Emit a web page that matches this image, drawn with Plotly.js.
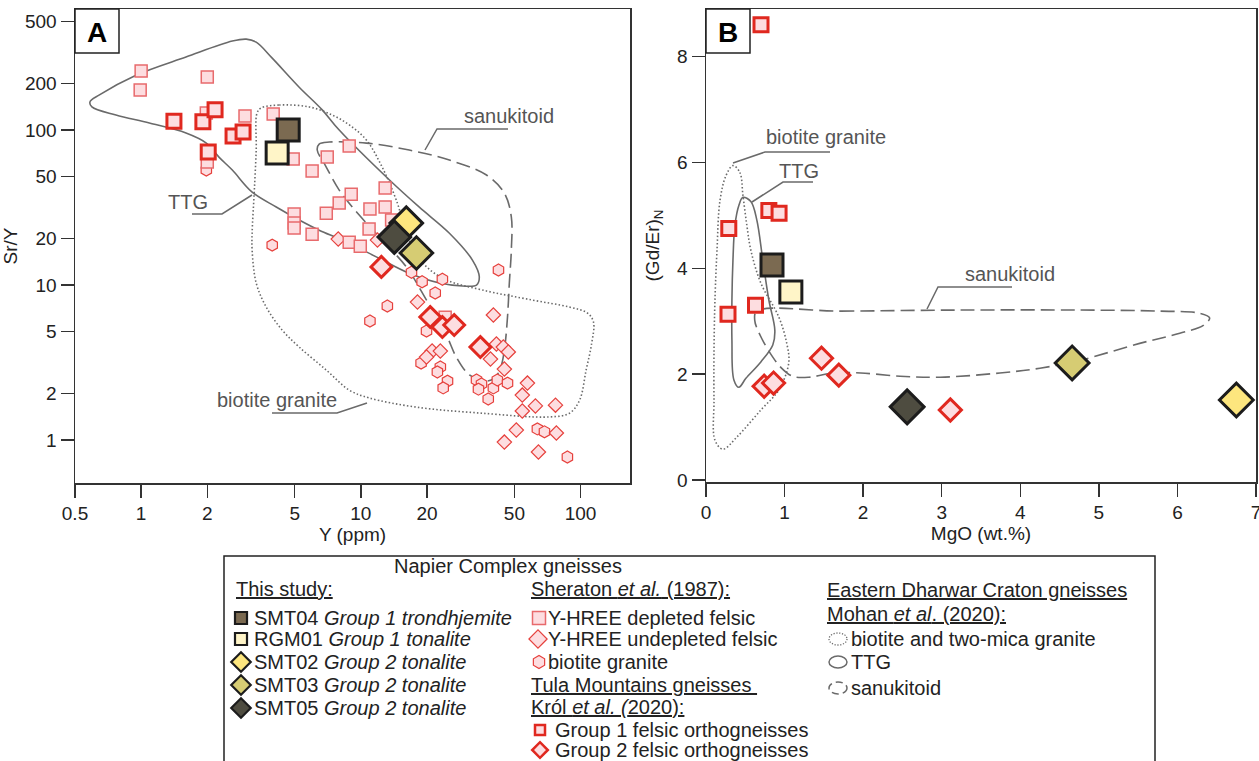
<!DOCTYPE html>
<html><head><meta charset="utf-8">
<script src="https://cdn.plot.ly/plotly-3.0.1.min.js"></script>
<style>html,body{margin:0;padding:0;background:#fff}#chart{width:1259px;height:761px}</style>
</head><body><div id="chart"></div>
<script>
// ---------------- DATA (panel A: Y ppm vs Sr/Y) ----------------
const shDepY   = [1.0,0.99,2.0,1.98,2.97,3.99,4.92,6.0,7.03,8.85,12.9,9.04,7.97,6.96,4.97,4.97,4.97,6.0,11.0,12.9,10.9,8.85,9.94,13.8,2.0,24.2];
const shDepSrY = [240,181,220,129,123,127,65,54.4,67,78.9,42.3,38.6,33.8,29.1,28.7,25.1,23.3,21.3,30.9,31.9,23.0,18.9,17.8,26.3,62.2,6.2];
const shUndY   = [7.89,11.9,18.1,40.1,21.1,23.0,19.9,41.4,44.5,46.9,38.9,45.0,57.3,54.3,62.3,76.9,54.3,51.0,77.6,45.0,64.3];
const shUndSrY = [19.8,19.5,7.77,6.41,3.75,3.75,3.43,4.16,3.98,3.70,3.33,2.87,2.33,1.95,1.66,1.68,1.54,1.16,1.11,0.97,0.837];
const shBtY    = [1.98,3.95,17.0,19.0,23.5,42.3,21.8,13.2,11.0,19.9,18.8,23.0,22.3,24.8,23.7,33.6,35.4,34.3,40.1,41.8,46.5,38.0,63.6,68.5,87.1];
const shBtSrY  = [55.2,18.1,12.1,10.5,10.9,12.5,8.88,7.32,5.86,5.05,3.14,2.96,2.75,2.40,2.17,2.44,2.30,2.13,2.17,2.44,2.33,1.84,1.18,1.13,0.777];
const krolG1Y   = [1.41,1.91,2.17,2.62,2.91,2.02];
const krolG1SrY = [114,113,135,91.5,97,72.1];
const krolG2Y   = [12.4,20.7,23.5,26.6,35.0];
const krolG2SrY = [13.1,6.22,5.36,5.52,3.98];
const studyNames = ['SMT04','RGM01','SMT02','SMT03','SMT05'];
const studyY     = [4.67,4.16,16.1,17.9,14.2];
const studySrY   = [100,71.1,25.1,16.1,20.4];
// field outlines, panel A
const ttgAY   = [0.585,0.643,0.948,1.60,2.60,3.01,3.34,3.95,5.24,6.67,7.97,13.5,18.4,25.3,32.2,34.6,33.6,29.0,22.8,16.6,11.75,8.23,6.46,5.24,4.12,3.20,2.60,2.26,1.98,1.60,1.09,0.768,0.597];
const ttgASrY = [152,168,226,296,375,386,369,291,189,135,100,47.6,31.9,21.6,14.5,11.3,10.0,9.86,10.3,11.9,15.2,19.5,22.6,26.3,31.9,39.8,55.2,66.9,82.4,95.7,111,125,141];
const btAY    = [3.52,4.25,5.82,7.41,8.86,10.6,12.5,14.5,16.6,19.5,24.5,35.7,60.4,89.0,107.5,114.5,112,106,99,89,72.2,35.7,17.9,10.9,8.86,6.96,5.24,4.38,3.71,3.34,3.20,3.20,3.27,3.34,3.37];
const btASrY  = [139,145,141,125,108,86.2,57.7,35.3,19.5,13.5,10.8,9.29,8.0,7.21,6.6,5.77,4.10,2.83,1.81,1.49,1.41,1.49,1.63,1.87,2.10,2.83,3.98,5.13,7.21,10.3,16.8,21.6,39.2,74.3,129];
const snAY    = [6.33,6.46,7.18,10.6,16.6,25.3,37.3,45.0,48.4,48.4,47.4,46.5,45.0,43.2,40.5,36.5,31.2,27.2,24.5,19.9,16.1,12.5,9.83,7.97,6.88];
const snASrY  = [74.3,81.2,83.7,82.4,74.3,64.0,51.3,39.2,27.5,16.8,10.3,6.22,3.81,2.91,2.51,2.40,2.63,3.43,4.76,8.0,13.1,19.5,28.3,41.0,59.5];

// ---------------- DATA (panel B: MgO wt.% vs (Gd/Er)N) ----------------
const krolG1MgO = [0.70,0.29,0.80,0.93,0.28,0.63];
const krolG1Gd  = [8.60,4.75,5.09,5.04,3.13,3.30];
const krolG2MgO = [0.74,0.86,1.47,1.69,3.11];
const krolG2Gd  = [1.77,1.83,2.30,1.98,1.32];
const studyMgO  = [0.84,1.08,6.75,4.66,2.56];
const studyGd   = [4.06,3.55,1.51,2.21,1.38];
const btBMgO = [0.343,0.431,0.470,0.520,0.571,0.698,0.926,1.028,1.053,0.926,0.698,0.393,0.216,0.114,0.102,0.102,0.114,0.140,0.178,0.254];
const btBGd  = [5.94,5.81,5.38,4.81,4.34,3.72,3.08,2.58,2.21,1.70,1.32,0.81,0.58,0.75,1.51,2.45,3.40,4.34,5.28,5.75];
const ttgBMgO = [0.470,0.571,0.647,0.723,0.800,0.876,0.850,0.698,0.508,0.419,0.355,0.330,0.330,0.343,0.368,0.419];
const ttgBGd  = [5.34,5.26,4.91,4.15,3.40,2.83,2.55,2.23,1.92,1.75,1.89,2.64,3.40,4.15,4.81,5.19];
const snBMgO = [0.647,1.713,3.236,4.759,5.774,6.28,6.41,6.33,6.03,5.52,4.76,4.25,3.74,2.98,2.47,1.97,1.61,1.31,1.10,0.95,0.85,0.70,0.62];
const snBGd  = [3.19,3.19,3.21,3.21,3.19,3.15,3.06,2.92,2.77,2.58,2.26,2.11,2.02,1.94,1.96,2.02,2.02,1.94,1.96,2.13,2.32,2.70,3.02];

// tick labels
const xTicksA = [0.5,1,2,5,10,20,50,100];
const yTicksA = [1,2,5,10,20,50,100,200,500];
const xTicksB = [0,1,2,3,4,5,6,7];
const yTicksB = [0,2,4,6,8];

// ---------------- STYLE ----------------
const W = 1259, H = 761;
const px = x => x / W, py = y => 1 - y / H;
const FONT = '"Liberation Sans", Arial, Helvetica, sans-serif';
const PINK = '#fddde0', RED = '#e0281f', LRED = '#e86a6c', MRED = '#e6403c';
const DARK = '#1c1c1c', GRAY = '#6a6a6a';
const studyFill = ['#7b6a51','#fff5c8','#fde67e','#d6cc73','#4e4c40'];
const studySym  = ['square','square','diamond','diamond','diamond'];

function closed(a){ return a.concat([a[0]]); }
function field(x, y, dash, xa, ya){
  return {type:'scatter', mode:'lines', x:closed(x), y:closed(y), xaxis:xa, yaxis:ya,
    line:{color:GRAY, width:1.6, dash:dash, shape:'spline', smoothing:1}, hoverinfo:'skip', showlegend:false};
}
function pts(x, y, sym, size, fill, lc, lw, xa, ya){
  return {type:'scatter', mode:'markers', x:x, y:y, xaxis:xa, yaxis:ya, hoverinfo:'skip', showlegend:false, cliponaxis:false,
    marker:{symbol:sym, size:size, color:fill, line:{color:lc, width:lw}}};
}
const DOT = '1.5px,2.2px', DASH = '14px,6px';

const traces = [];
// panel A fields
traces.push(field(ttgAY, ttgASrY, 'solid', 'x', 'y'));
traces.push(field(btAY, btASrY, DOT, 'x', 'y'));
traces.push(field(snAY, snASrY, DASH, 'x', 'y'));
// panel A points
traces.push(pts(shBtY, shBtSrY, 'hexagon', 12, PINK, MRED, 1.2, 'x', 'y'));
traces.push(pts(shUndY, shUndSrY, 'diamond', 11, PINK, MRED, 1.2, 'x', 'y'));
traces.push(pts(shDepY, shDepSrY, 'square', 12, PINK, LRED, 1.5, 'x', 'y'));
traces.push(pts(krolG1Y, krolG1SrY, 'square', 14, PINK, RED, 3, 'x', 'y'));
traces.push(pts(krolG2Y, krolG2SrY, 'diamond', 16, PINK, RED, 3, 'x', 'y'));
for (let i = 0; i < 5; i++) {
  traces.push(pts([studyY[i]], [studySrY[i]], studySym[i], studySym[i]==='square'?22:25, studyFill[i], DARK, 3, 'x', 'y'));
}
// panel B fields
traces.push(field(btBMgO, btBGd, DOT, 'x2', 'y2'));
traces.push(field(ttgBMgO, ttgBGd, 'solid', 'x2', 'y2'));
traces.push(field(snBMgO, snBGd, DASH, 'x2', 'y2'));
// panel B points
traces.push(pts(krolG1MgO, krolG1Gd, 'square', 14, PINK, RED, 3, 'x2', 'y2'));
traces.push(pts(krolG2MgO, krolG2Gd, 'diamond', 17, PINK, RED, 3, 'x2', 'y2'));
for (let i = 0; i < 5; i++) {
  traces.push(pts([studyMgO[i]], [studyGd[i]], studySym[i], studySym[i]==='square'?22:26, studyFill[i], DARK, 3, 'x2', 'y2'));
}

// ---------------- LEGEND (pixel-space helper axes) ----------------
const legRowsL = [618, 639, 662, 685, 708];
const legendLabelsL = ['SMT04 <i>Group 1 trondhjemite</i>','RGM01 <i>Group 1 tonalite</i>','SMT02 <i>Group 2 tonalite</i>','SMT03 <i>Group 2 tonalite</i>','SMT05 <i>Group 2 tonalite</i>'];
for (let i = 0; i < 5; i++) {
  traces.push(pts([241], [legRowsL[i]], studySym[i], studySym[i]==='square'?12:15, studyFill[i], DARK, 2.2, 'x3', 'y3'));
}
traces.push(pts([539], [618], 'square', 13, PINK, LRED, 1.5, 'x3', 'y3'));
traces.push(pts([538], [639], 'diamond', 14, PINK, MRED, 1.2, 'x3', 'y3'));
traces.push(pts([539], [662], 'hexagon', 13, PINK, MRED, 1.2, 'x3', 'y3'));
traces.push(pts([540], [730], 'square', 10, PINK, RED, 2.5, 'x3', 'y3'));
traces.push(pts([540], [750], 'diamond', 12, PINK, RED, 2.5, 'x3', 'y3'));

const ann = [];
function txt(t, x, y, o){ ann.push(Object.assign({text:t, x:px(x), y:py(y), xref:'paper', yref:'paper', showarrow:false, xanchor:'left', yanchor:'middle', font:{family:FONT, size:20, color:'#222'}}, o||{})); }
// legend texts
txt('Napier Complex gneisses', 508, 566, {xanchor:'center'});
txt('<u>This study:</u>', 234, 589);
for (let i = 0; i < 5; i++) txt(legendLabelsL[i], 252, legRowsL[i]);
txt('<u>Sheraton <i>et al.</i> (1987):</u>', 529, 589);
txt('Y-HREE depleted felsic', 546, 618);
txt('Y-HREE undepleted felsic', 546, 639);
txt('biotite granite', 546, 662);
txt('<u>Tula Mountains gneisses </u>', 529, 685);
txt('<u>Król <i>et al. (</i>2020):</u>', 529, 707);
txt('Group 1 felsic orthogneisses', 553, 730);
txt('Group 2 felsic orthogneisses', 553, 750);
txt('<u>Eastern Dharwar Craton gneisses</u>', 825, 590);
txt('<u>Mohan <i>et al</i>. (2020):</u>', 825, 614);
txt('biotite and two-mica granite', 849, 639);
txt('TTG', 849, 662);
txt('sanukitoid', 849, 688);
// field labels
const LAB = {family:FONT, size:20, color:'#555'};
txt('sanukitoid', 509, 116, {xanchor:'center', font:LAB});
txt('TTG', 188, 202, {xanchor:'center', font:LAB});
txt('biotite granite', 277, 400, {xanchor:'center', font:LAB});
txt('biotite granite', 826, 137, {xanchor:'center', font:LAB});
txt('TTG', 799, 171, {xanchor:'center', font:LAB});
txt('sanukitoid', 1010, 274, {xanchor:'center', font:LAB});
// panel letters
txt('<b>A</b>', 97, 32, {xanchor:'center', font:{family:FONT, size:28, color:'#000'}});
txt('<b>B</b>', 728, 32, {xanchor:'center', font:{family:FONT, size:28, color:'#000'}});

function pathPx(pts){ return pts.map((p,i)=>(i?'L':'M')+px(p[0])+','+py(p[1])).join(' '); }
const shapes = [];
function leader(p){ shapes.push({type:'path', xref:'paper', yref:'paper', path:pathPx(p), line:{color:GRAY, width:1.5}}); }
leader([[425,150],[437,129],[508,129]]);
leader([[192,214],[222,214],[252,195]]);
leader([[272,413],[337,413],[367,403]]);
leader([[733,163],[765,152],[830,152]]);
leader([[752,202],[783,182],[813,182]]);
leader([[927,309],[938,287],[1012,287]]);
// panel letter boxes
shapes.push({type:'rect', xref:'paper', yref:'paper', x0:px(75), x1:px(119), y0:py(9), y1:py(53), line:{color:'#222', width:1.5}, fillcolor:'#fff', layer:'above'});
shapes.push({type:'rect', xref:'paper', yref:'paper', x0:px(706), x1:px(750), y0:py(9), y1:py(53), line:{color:'#222', width:1.5}, fillcolor:'#fff', layer:'above'});
// legend box
shapes.push({type:'rect', xref:'paper', yref:'paper', x0:px(224), x1:px(1155), y0:py(556), y1:py(775), line:{color:'#222', width:1.5}, fillcolor:'rgba(0,0,0,0)'});
// legend field symbols
shapes.push({type:'circle', xref:'paper', yref:'paper', x0:px(829), x1:px(847), y0:py(633), y1:py(645), line:{color:GRAY, width:1.3, dash:'1.2px,1.6px'}});
shapes.push({type:'circle', xref:'paper', yref:'paper', x0:px(829), x1:px(847), y0:py(656), y1:py(668), line:{color:GRAY, width:1.5}});
shapes.push({type:'circle', xref:'paper', yref:'paper', x0:px(829), x1:px(847), y0:py(682), y1:py(694), line:{color:GRAY, width:1.5, dash:'7px,4px'}});

const axBase = {ticks:'outside', ticklen:13, tickwidth:1.3, tickcolor:'#333', showline:true, linecolor:'#333', linewidth:1.5,
  mirror:true, showgrid:false, zeroline:false, tickfont:{family:FONT, size:19, color:'#222'}, fixedrange:true, ticklabeloverflow:'allow'};

const layout = {
  width:W, height:H, margin:{l:0, r:0, t:0, b:0}, paper_bgcolor:'#fff', plot_bgcolor:'rgba(0,0,0,0)', showlegend:false,
  font:{family:FONT, size:19, color:'#222'},
  xaxis: Object.assign({}, axBase, {type:'log', domain:[px(75), px(630)], range:[Math.log10(0.5), 2.225], anchor:'y',
    tickmode:'array', tickvals:xTicksA, ticktext:xTicksA.map(String), title:{text:'Y (ppm)', font:{family:FONT, size:19}, standoff:2}}),
  yaxis: Object.assign({}, axBase, {type:'log', domain:[py(483), py(9)], range:[-0.277, 2.781], anchor:'x',
    tickmode:'array', tickvals:yTicksA, ticktext:yTicksA.map(String), title:{text:'Sr/Y', font:{family:FONT, size:19}, standoff:2}}),
  xaxis2: Object.assign({}, axBase, {domain:[px(706), px(1256)], range:[0, 7], anchor:'y2',
    tickmode:'array', tickvals:xTicksB, title:{text:'MgO (wt.%)', font:{family:FONT, size:19}, standoff:2}}),
  yaxis2: Object.assign({}, axBase, {domain:[py(482), py(9)], range:[-0.04, 8.9], anchor:'x2',
    tickmode:'array', tickvals:yTicksB, title:{text:'(Gd/Er)<sub>N</sub>', font:{family:FONT, size:19}, standoff:12}}),
  xaxis3: {domain:[0,1], range:[0,W], visible:false, anchor:'y3', fixedrange:true},
  yaxis3: {domain:[0,1], range:[H,0], visible:false, anchor:'x3', fixedrange:true},
  annotations: ann, shapes: shapes
};

Plotly.newPlot('chart', traces, layout, {staticPlot:true, displayModeBar:false});
</script></body></html>
